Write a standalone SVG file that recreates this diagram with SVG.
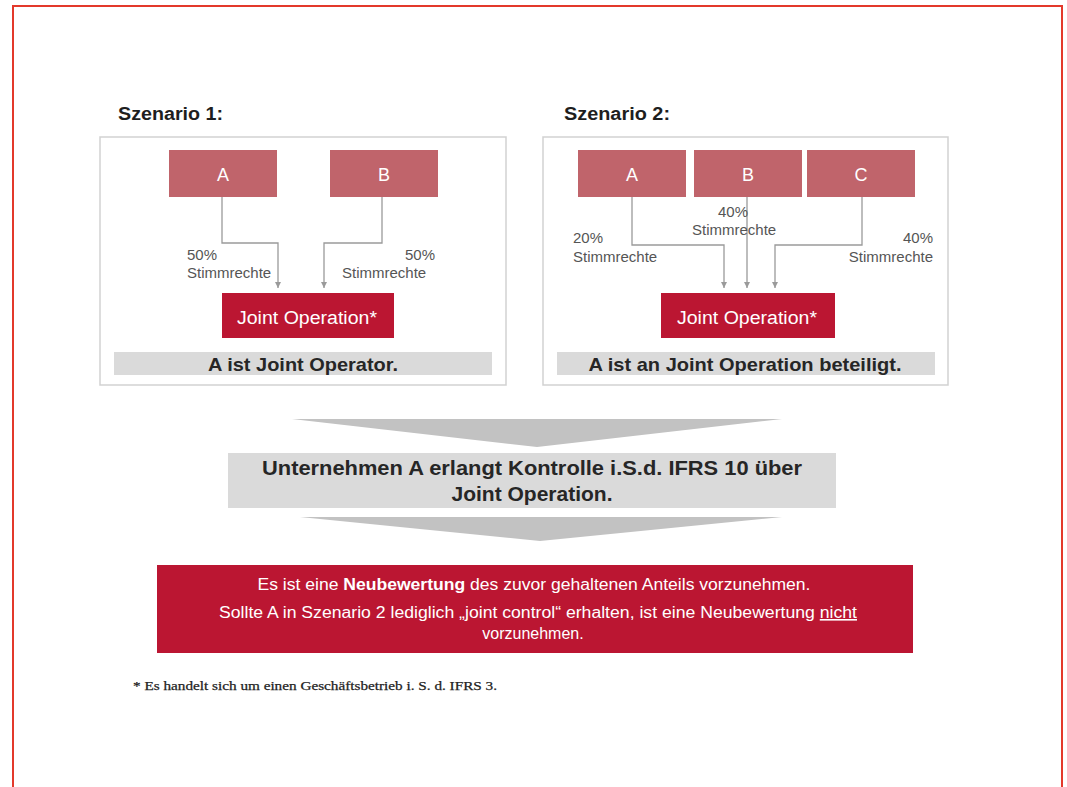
<svg xmlns="http://www.w3.org/2000/svg" width="1067" height="787" viewBox="0 0 1067 787">
<style>
.head{font-family:"Liberation Sans",Arial,sans-serif;font-weight:bold;font-size:18px;fill:#1e1e1e}
.panel{fill:#fff;stroke:#d2d2d2;stroke-width:1.5}
.party{fill:#c0646b}
.jo{fill:#bb1632}
.ptxt{font-family:"Liberation Sans",Arial,sans-serif;font-size:18px;fill:#fff;text-anchor:middle}
.lbl{font-family:"Liberation Sans",Arial,sans-serif;font-size:15px;fill:#555}
.bar{fill:#dadada}
.bartxt{font-family:"Liberation Sans",Arial,sans-serif;font-weight:bold;font-size:19px;fill:#262626;text-anchor:middle}
.conn{fill:none;stroke:#9a9a9a;stroke-width:1.3}
.chev{fill:#c2c2c2}
.white{font-family:"Liberation Sans",Arial,sans-serif;font-size:16px;fill:#fff;text-anchor:middle}
</style>
<defs>
<marker id="arr" viewBox="0 0 10 10" refX="10" refY="5" markerWidth="6" markerHeight="6" markerUnits="userSpaceOnUse" orient="auto">
<path d="M0,0 L10,5 L0,10 z" fill="#9a9a9a"/>
</marker>
</defs>
<rect x="0" y="0" width="1067" height="787" fill="#fff"/>
<rect x="13" y="6" width="1049" height="800" fill="none" stroke="#e3392b" stroke-width="2"/>

<g id="scenario1">
<text class="head" x="118" y="120" textLength="105" lengthAdjust="spacingAndGlyphs">Szenario 1:</text>
<rect class="panel" x="100" y="137" width="406" height="248"/>
</g>
<g id="s1-A"><rect class="party" x="169" y="150" width="108" height="47"/><text class="ptxt" x="223" y="181">A</text></g>
<g id="s1-B"><rect class="party" x="330" y="150" width="108" height="47"/><text class="ptxt" x="384" y="181">B</text></g>
<g id="s1-JO"><rect class="jo" x="222" y="293" width="172" height="45"/><text class="ptxt" x="307" y="324" textLength="140" lengthAdjust="spacingAndGlyphs">Joint Operation*</text></g>
<g id="s1-bar"><rect class="bar" x="114" y="352" width="378" height="23"/><text class="bartxt" x="303" y="371" textLength="190" lengthAdjust="spacingAndGlyphs">A ist Joint Operator.</text></g>

<g id="scenario2">
<text class="head" x="564" y="120" textLength="106" lengthAdjust="spacingAndGlyphs">Szenario 2:</text>
<rect class="panel" x="543" y="137" width="405" height="248"/>
</g>
<g id="s2-A"><rect class="party" x="578" y="150" width="108" height="47"/><text class="ptxt" x="632" y="181">A</text></g>
<g id="s2-B"><rect class="party" x="694" y="150" width="108" height="47"/><text class="ptxt" x="748" y="181">B</text></g>
<g id="s2-C"><rect class="party" x="807" y="150" width="108" height="47"/><text class="ptxt" x="861" y="181">C</text></g>
<g id="s2-JO"><rect class="jo" x="661" y="293" width="174" height="45"/><text class="ptxt" x="747" y="324" textLength="140" lengthAdjust="spacingAndGlyphs">Joint Operation*</text></g>
<g id="s2-bar"><rect class="bar" x="557" y="352" width="378" height="23"/><text class="bartxt" x="745" y="371" textLength="313" lengthAdjust="spacingAndGlyphs">A ist an Joint Operation beteiligt.</text></g>

<g id="connectors">
<path class="conn" d="M222,197 V243 H278 V288" marker-end="url(#arr)"/>
<path class="conn" d="M382,197 V243 H324 V288" marker-end="url(#arr)"/>
<path class="conn" d="M632,197 V245 H724 V288" marker-end="url(#arr)"/>
<path class="conn" d="M747,197 V288" marker-end="url(#arr)"/>
<path class="conn" d="M862,197 V245 H775 V288" marker-end="url(#arr)"/>
</g>

<g id="labels">
<text class="lbl" x="187" y="260">50%</text>
<text class="lbl" x="187" y="278">Stimmrechte</text>
<text class="lbl" x="435" y="260" text-anchor="end">50%</text>
<text class="lbl" x="342" y="278">Stimmrechte</text>
<text class="lbl" x="573" y="243">20%</text>
<text class="lbl" x="573" y="262">Stimmrechte</text>
<text class="lbl" x="718" y="217">40%</text>
<text class="lbl" x="692" y="235">Stimmrechte</text>
<text class="lbl" x="933" y="243" text-anchor="end">40%</text>
<text class="lbl" x="933" y="262" text-anchor="end">Stimmrechte</text>
</g>

<g id="chevron-top"><polygon class="chev" points="292,419 782,419 537,447"/></g>
<g id="control">
<rect class="bar" x="228" y="453" width="608" height="55"/>
<text class="bartxt" x="532" y="475" style="font-size:21px" textLength="540" lengthAdjust="spacingAndGlyphs">Unternehmen A erlangt Kontrolle i.S.d. IFRS 10 über</text>
<text class="bartxt" x="532" y="501" style="font-size:21px">Joint Operation.</text>
</g>
<g id="chevron-bottom"><polygon class="chev" points="300,517 782,517 540,541"/></g>

<g id="result">
<rect class="jo" x="157" y="565" width="756" height="88"/>
<text class="white" x="534" y="590" textLength="553" lengthAdjust="spacingAndGlyphs">Es ist eine <tspan font-weight="bold">Neubewertung</tspan> des zuvor gehaltenen Anteils vorzunehmen.</text>
<text class="white" x="538" y="618" textLength="638" lengthAdjust="spacingAndGlyphs">Sollte A in Szenario 2 lediglich „joint control“ erhalten, ist eine Neubewertung <tspan text-decoration="underline">nicht</tspan></text>
<text class="white" x="533" y="639">vorzunehmen.</text>
</g>

<g id="footnote">
<text x="133" y="690" font-family="'Liberation Serif','DejaVu Serif',serif" font-size="13" fill="#222" stroke="#222" stroke-width="0.25" textLength="364" lengthAdjust="spacingAndGlyphs">* Es handelt sich um einen Geschäftsbetrieb i. S. d. IFRS 3.</text>
</g>
</svg>
